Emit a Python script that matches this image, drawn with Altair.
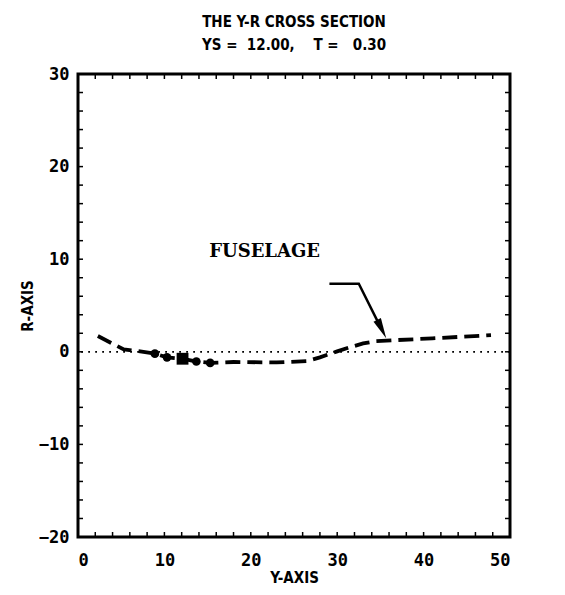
import altair as alt
import pandas as pd

# ---- data ----
line_y = [2.3, 5.3, 6.8, 8.9, 10.3, 12.1, 13.7, 15.3, 18.0, 23.0, 26.5, 28.0, 30.0, 31.5, 33.0, 34.5, 36.5, 41.0, 47.8]
line_r = [1.7, 0.25, 0.1, -0.2, -0.6, -0.75, -1.05, -1.2, -1.1, -1.15, -1.0, -0.6, 0.05, 0.5, 0.9, 1.15, 1.25, 1.45, 1.8]
circle_y = [8.9, 10.3, 13.7, 15.3]
circle_r = [-0.2, -0.6, -1.05, -1.2]
square_y = [12.1]
square_r = [-0.75]
arrow_y = [29.1, 32.5, 35.1]
arrow_r = [7.35, 7.35, 2.5]
arrow_head_y = [35.15]
arrow_head_r = [2.45]
label_text = ["FUSELAGE"]
label_y = [21.6]
label_r = [10.8]
x_ticks = [0, 10, 20, 30, 40, 50]
r_ticks = [-20, -10, 0, 10, 20, 30]
x_minor = list(range(0, 51, 2))
r_minor = list(range(-20, 31, 2))

W, H = 432, 463
TL = 5
NB = "\u00a0"

xs = alt.Scale(domain=[0, 50], nice=False, zero=False)
ys = alt.Scale(domain=[-20, 30], nice=False, zero=False)

df_line = pd.DataFrame({"y": line_y, "r": line_r, "o": list(range(len(line_y)))})
df_circ = pd.DataFrame({"y": circle_y, "r": circle_r})
df_sq = pd.DataFrame({"y": square_y, "r": square_r})
df_arrow = pd.DataFrame({"y": arrow_y, "r": arrow_r, "o": list(range(len(arrow_y)))})
df_head = pd.DataFrame({"y": arrow_head_y, "r": arrow_head_r})
df_lab = pd.DataFrame({"t": label_text, "y": label_y, "r": label_r})
df_xm = pd.DataFrame({"y": x_minor})
df_rm = pd.DataFrame({"r": r_minor})
df_zero = pd.DataFrame({"r": [0]})

axis_font = "DejaVu Sans Mono"
title_font = "DejaVu Sans Condensed"

X = alt.X("y:Q", scale=xs, axis=alt.Axis(values=x_ticks, title="Y-AXIS", tickSize=0, domain=False, grid=False,
                                          labelFont=axis_font, labelFontSize=17, labelFontWeight="bold",
                                          labelColor="black", labelPadding=15, titleFont=title_font,
                                          titleFontSize=15, titleFontWeight="bold", titleColor="black",
                                          titlePadding=2))
Y = alt.Y("r:Q", scale=ys, axis=alt.Axis(values=r_ticks, title="R-AXIS", tickSize=0, domain=False, grid=False,
                                          labelFont=axis_font, labelFontSize=17, labelFontWeight="bold",
                                          labelColor="black", labelPadding=9, titleFont=title_font,
                                          titleFontSize=15, titleFontWeight="bold", titleColor="black",
                                          titlePadding=3))

line = alt.Chart(df_line).mark_line(color="black", strokeWidth=3.8, strokeDash=[15, 7]).encode(
    x=X, y=Y, order="o:Q")

zero = alt.Chart(df_zero).mark_rule(color="black", strokeWidth=1.8, strokeDash=[1.8, 5.2]).encode(
    y=alt.Y("r:Q", scale=ys))

circ = alt.Chart(df_circ).mark_point(shape="circle", filled=True, color="black", size=75, opacity=1).encode(
    x=alt.X("y:Q", scale=xs), y=alt.Y("r:Q", scale=ys))
sq = alt.Chart(df_sq).mark_point(shape="square", filled=True, color="black", size=140, opacity=1).encode(
    x=alt.X("y:Q", scale=xs), y=alt.Y("r:Q", scale=ys))

arrow = alt.Chart(df_arrow).mark_line(color="black", strokeWidth=2.5).encode(
    x=alt.X("y:Q", scale=xs), y=alt.Y("r:Q", scale=ys), order="o:Q")
head = alt.Chart(df_head).mark_point(shape="M -0.4 -1 L 0.4 -1 L 0 1 Z", filled=True, color="black",
                                     size=420, angle=334, opacity=1).encode(
    x=alt.X("y:Q", scale=xs), y=alt.Y("r:Q", scale=ys))

lab = alt.Chart(df_lab).mark_text(font="DejaVu Serif", fontSize=18, fontWeight="bold", color="black").encode(
    x=alt.X("y:Q", scale=xs), y=alt.Y("r:Q", scale=ys), text="t:N")

tb = alt.Chart(df_xm).mark_rule(color="black", strokeWidth=1.5).encode(
    x=alt.X("y:Q", scale=xs), y=alt.value(H), y2=alt.value(H - TL))
tt = alt.Chart(df_xm).mark_rule(color="black", strokeWidth=1.5).encode(
    x=alt.X("y:Q", scale=xs), y=alt.value(0), y2=alt.value(TL))
tl = alt.Chart(df_rm).mark_rule(color="black", strokeWidth=1.5).encode(
    y=alt.Y("r:Q", scale=ys), x=alt.value(0), x2=alt.value(TL))
tr = alt.Chart(df_rm).mark_rule(color="black", strokeWidth=1.5).encode(
    y=alt.Y("r:Q", scale=ys), x=alt.value(W), x2=alt.value(W - TL))

title_lines = ["THE Y-R CROSS SECTION",
               "YS" + NB + "=" + NB * 2 + "12.00," + NB * 4 + "T" + NB + "=" + NB * 3 + "0.30"]

chart = alt.layer(line, zero, circ, sq, arrow, head, lab, tb, tt, tl, tr).properties(
    width=W, height=H,
    title=alt.TitleParams(text=title_lines,
                          font=title_font, fontSize=15, fontWeight="bold", color="black",
                          anchor="middle", offset=12, lineHeight=23),
    autosize=alt.AutoSizeParams(type="none"),
    padding={"left": 70, "top": 66, "right": 45, "bottom": 50},
).configure(background="white").configure_view(stroke="black", strokeWidth=3)

chart.save("out.html", embed_options={"renderer": "svg", "actions": False})
